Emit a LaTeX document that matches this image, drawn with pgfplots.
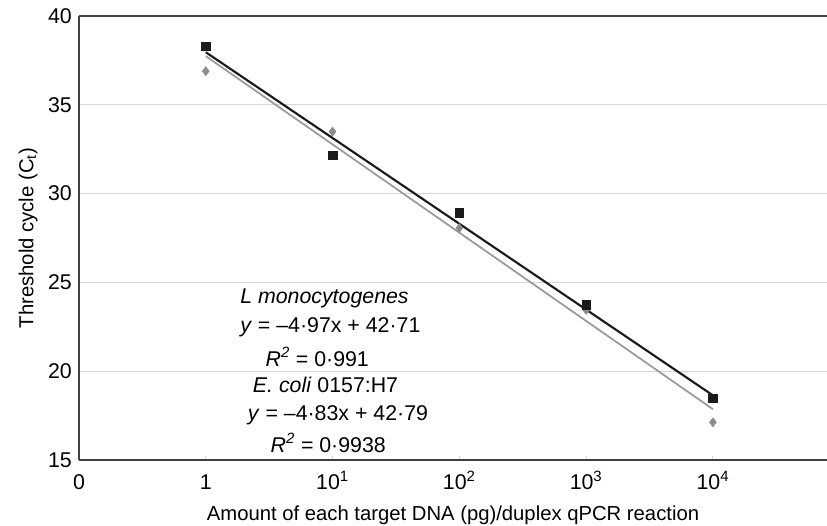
\documentclass[border=0pt]{standalone}
\usepackage{pgfplots}
\pgfplotsset{compat=1.18}
\usepackage{fontspec}
\setmainfont{Liberation Sans}

\definecolor{ecoli}{HTML}{1A1A1A}
\definecolor{lmono}{HTML}{8C8C8C}
\definecolor{lmonoline}{HTML}{999999}
\definecolor{gridgray}{HTML}{D6D6D6}
\definecolor{axisgray}{HTML}{404040}

\begin{document}
\begin{tikzpicture}
\begin{axis}[
    scale only axis,
    width=561pt, height=333pt,
    xmin=0, xmax=5.9,
    ymin=15, ymax=40,
    axis x line*=bottom,
    axis y line*=left,
    axis line style={axisgray, line width=0.9pt},
    xtick={0,1,2,3,4,5},
    xticklabels={0, 1, 10\textsuperscript{1}, 10\textsuperscript{2}, 10\textsuperscript{3}, 10\textsuperscript{4}},
    ytick={15,20,25,30,35,40},
    major tick length=3pt,
    xtick style={gridgray, line width=0.8pt},
    ytick style={draw=none},
    tick align=inside,
    ymajorgrids,
    grid style={gridgray, line width=1pt},
    /pgf/number format/assume math mode=true,
    tick label style={font=\fontsize{16pt}{18pt}\selectfont, inner sep=0pt},
    label style={font=\fontsize{15.2pt}{17pt}\selectfont},
    xticklabel style={anchor=base, yshift=-22.5pt},
    yticklabel style={anchor=east, xshift=-5.25pt},
    xlabel={Amount of each target DNA (pg)/duplex qPCR reaction},
    ylabel={Threshold cycle (C\textsubscript{t})},
    xlabel style={at={(axis description cs:0.5,-0.1366)}, anchor=base},
    ylabel style={at={(axis description cs:-0.0610,0.5)}, anchor=base},
    clip=false,
]
\coordinate (sw) at (rel axis cs:0,0);
\coordinate (ne) at (rel axis cs:1,1);
% top frame line
\draw[axisgray, line width=0.9pt] (rel axis cs:0,1) -- (rel axis cs:1,1);

% L. monocytogenes trend line (y = -4.97x + 42.71)
\addplot[lmonoline, line width=1.3pt, no markers] coordinates {(1,37.74) (5,17.86)};
% E. coli O157:H7 trend line (y = -4.83x + 42.79)
\addplot[ecoli, line width=1.6pt, no markers] coordinates {(1,37.96) (5,18.64)};

% L. monocytogenes data
\addplot[only marks, mark=diamond*, mark size=3.4pt, color=lmono] coordinates {
    (1,36.89) (2,33.49) (3,28.06) (4,23.45) (5,17.12)
};
% E. coli data
\addplot[only marks, mark=square*, mark size=3.2pt, color=ecoli] coordinates {
    (1,38.29) (2,32.17) (3,28.91) (4,23.73) (5,18.47)
};

\begin{scope}[font=\fontsize{16pt}{18pt}\selectfont, anchor=west, inner sep=0pt]
\node at (axis cs:1.27,24.12) {\textit{L monocytogenes}};
\node at (axis cs:1.27,22.49) {\textit{y} = –4·97x + 42·71};
\node at (axis cs:1.47,20.80) {\textit{R\textsuperscript{2}} = 0·991};
\node at (axis cs:1.37,19.23) {\textit{E. coli} 0157:H7};
\node at (axis cs:1.33,17.54) {\textit{y} = –4·83x + 42·79};
\node at (axis cs:1.51,15.96) {\textit{R\textsuperscript{2}} = 0·9938};
\end{scope}
\end{axis}
\pgfresetboundingbox
\path ([shift={(-59.25pt,-49.5pt)}]sw) rectangle ([shift={(0pt,12pt)}]ne);
\end{tikzpicture}
\end{document}
